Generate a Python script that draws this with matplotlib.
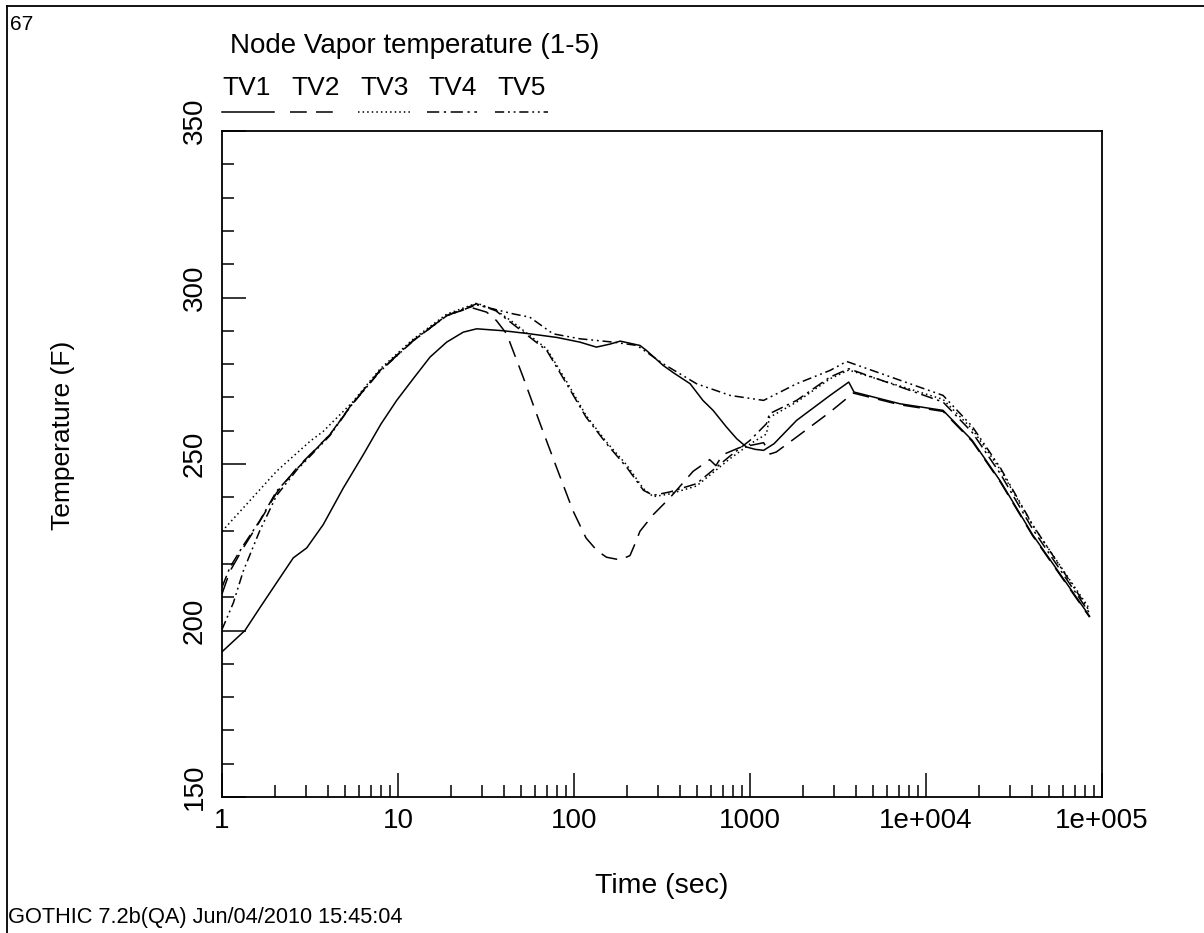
import matplotlib
matplotlib.use("Agg")
import matplotlib.pyplot as plt
import matplotlib.transforms as mtransforms
from matplotlib.lines import Line2D
from matplotlib.ticker import LogLocator, NullFormatter

plt.rcParams["font.family"] = ["Liberation Sans", "DejaVu Sans"]

# --- data ---
SERIES_NAMES = ["TV1", "TV2", "TV3", "TV4", "TV5"]
X_TICK_LABELS = ["1", "10", "100", "1000", "1e+004", "1e+005"]
Y_TICKS = [150, 200, 250, 300, 350]

tv1_t = [1, 1.35, 1.64, 2.04, 2.54, 3.03, 3.76, 4.89, 6.35, 8.0, 9.83, 12.2, 15.2, 18.9, 23.5, 28,
         40, 56, 80, 108, 134, 160, 183, 237, 258, 321, 365, 457, 540, 617, 735, 840, 955, 1070,
         1195, 1370, 1840, 2850, 3640, 3900, 7090, 12500, 18300, 26500, 40300, 85000]
tv1_T = [193.6, 200, 206.8, 214.3, 221.8, 224.8, 231.8, 242.8, 252.8, 262.0, 269.1, 275.6, 282.1,
         286.6, 289.6, 290.6, 290.0, 289.1, 288.0, 286.6, 285.1, 286.0, 286.9, 285.6, 284.1, 279.6,
         277.5, 274.1, 269.1, 266.1, 261.1, 257.6, 255.1, 254.4, 254.1, 256.1, 263.1, 270.6, 274.6,
         271.6, 268.1, 266.1, 257.1, 244.8, 228.8, 204.3]

tv2_t = [1, 1.11, 1.32, 1.64, 2.04, 2.66, 4.1, 5.5, 7.9, 12.2, 18.9, 26, 31.9, 36.2, 41.4, 51.4,
         64.2, 79.8, 98.8, 117, 135, 153, 183, 208, 222, 237, 282, 350, 475, 590, 640, 700, 870,
         1100, 1195, 1300, 1410, 1840, 2850, 3860, 7090, 12500, 18300, 26500, 40300, 85000]
tv2_T = [211, 217.8, 224.8, 232.8, 241.3, 248.8, 258.8, 268, 278, 287, 294.6, 297, 295.6, 293.1,
         289.1, 276.1, 262.1, 248.8, 235.9, 227.8, 224.0, 222.0, 221.2, 222.5, 226.0, 229.8, 234.8,
         239.8, 247.8, 251.3, 249.5, 252.8, 254.9, 256.0, 256.4, 253.0, 253.6, 258.1, 265.6, 271.3,
         267.8, 265.8, 256.8, 244.5, 228.5, 204.0]

tv3_t = [1, 1.32, 2.04, 3.16, 3.76, 5.5, 7.9, 12.2, 18.9, 28, 36, 45, 56, 70, 90.7, 117, 153, 200,
         248, 282, 350, 497, 770, 1000, 1240, 1290, 1840, 2850, 3640, 12500, 18300, 26500, 40300,
         85000]
tv3_T = [229.8, 236.8, 247.8, 256.8, 259.8, 268.5, 278.5, 287.5, 295, 298.3, 296.2, 292.6, 288.6,
         284.6, 274.8, 264.6, 256.6, 249.6, 242.6, 240.2, 241.0, 243.4, 251.6, 256.0, 259.0, 264.0,
         268.6, 275.6, 278.2, 269.4, 260.5, 248.2, 231.6, 206.5]

tv4_t = [1, 1.11, 1.32, 1.64, 2.04, 2.66, 4.1, 5.5, 7.9, 12.2, 18.9, 28, 36, 45, 56, 70, 90.7, 117,
         153, 200, 248, 282, 350, 497, 770, 1000, 1240, 1290, 1840, 2850, 3640, 12500, 18300, 26500,
         40300, 85000]
tv4_T = [213, 219, 225.5, 233, 241.8, 248.5, 258.8, 268.2, 278.1, 287.1, 294.6, 298.1, 296, 292,
         288.1, 284.1, 274.1, 264.1, 256.1, 248.9, 242.1, 240.6, 241.6, 244.1, 252.4, 257.1, 262.1,
         265.1, 269.1, 276.1, 278.6, 268.6, 259.5, 247, 230.5, 205.2]

tv5_t = [1, 1.16, 1.32, 1.64, 2.04, 2.66, 4.1, 5.5, 7.9, 12.2, 18.9, 28, 45, 56, 76, 108, 167, 228,
         321, 497, 770, 1195, 1840, 2850, 3540, 12500, 18300, 26500, 40300, 85000]
tv5_T = [200.3, 208.3, 217.8, 230, 240.5, 248.2, 258.5, 268, 277.8, 287, 294.5, 297.8, 295.1, 294.1,
         289.1, 287.6, 286.6, 285.6, 280.1, 274.1, 270.6, 269.1, 274.1, 278.1, 280.8, 270.6, 261.3,
         248.8, 231.8, 205.8]

series_t = [tv1_t, tv2_t, tv3_t, tv4_t, tv5_t]
series_T = [tv1_T, tv2_T, tv3_T, tv4_T, tv5_T]

# dash patterns similar to the GOTHIC ones
dash_styles = [
    "-",
    (0, (11, 6)),
    (0, (1, 2)),
    (0, (8, 3, 1.5, 3)),
    (0, (6, 2.5, 1.2, 2.5, 1.2, 2.5)),
]

W, H = 1204, 933
fig = plt.figure(figsize=(W / 100, H / 100), dpi=100)

# axes box in pixels: left 222, right 1102, top 131, bottom 797
ax = fig.add_axes([222 / W, (H - 797) / H, 880 / W, 666 / H])

for t, T, ls in zip(series_t, series_T, dash_styles):
    ax.plot(t, T, color="black", linestyle=ls, linewidth=1.1)

ax.set_xscale("log")
ax.set_xlim(1, 1e5)
ax.set_ylim(150, 350)

ax.set_xticks([1, 10, 100, 1000, 1e4, 1e5])
ax.set_xticklabels(X_TICK_LABELS)
ax.xaxis.set_minor_locator(LogLocator(base=10, subs=range(2, 10)))
ax.xaxis.set_minor_formatter(NullFormatter())
ax.set_yticks(Y_TICKS)
ax.set_yticklabels([str(v) for v in Y_TICKS])
ax.set_yticks(range(150, 351, 10), minor=True)

ax.tick_params(which="major", direction="in", length=17, width=1.1, labelsize=20)
ax.tick_params(which="minor", direction="in", length=8.5, width=1.1)
ax.tick_params(axis="x", pad=8)
ax.tick_params(axis="y", pad=10)
for sp in ax.spines.values():
    sp.set_linewidth(1.3)

offset = mtransforms.ScaledTranslation(0, 10 / 100, fig.dpi_scale_trans)
for lab in ax.get_yticklabels():
    lab.set_rotation(90)
    lab.set_va("center")
    lab.set_transform(lab.get_transform() + offset)

ax.set_xlabel("Time (sec)", fontsize=20.5, labelpad=28)
fig.text(63 / W, 1 - 435 / H, "Temperature (F)", rotation=90, fontsize=19,
         ha="center", va="center")

# header texts
fig.text(10 / W, 1 - 25 / H, "67", fontsize=15, ha="left", va="center")
fig.text(230 / W, 1 - 46 / H, "Node Vapor temperature (1-5)", fontsize=20, ha="left", va="center")
fig.text(8 / W, 1 - 918 / H, "GOTHIC 7.2b(QA) Jun/04/2010 15:45:04", fontsize=15.7,
         ha="left", va="center")

# legend: labels above line samples
label_x = [222, 291, 360, 428, 497]
line_span = [(222, 274), (290, 340), (358, 410), (427, 477), (495, 548)]
for name, lx, (x0, x1), ls in zip(SERIES_NAMES, label_x, line_span, dash_styles):
    fig.text(lx / W, 1 - 88 / H, name, fontsize=19, ha="left", va="center")
    fig.add_artist(Line2D([x0 / W, x1 / W], [1 - 112 / H, 1 - 112 / H], color="black",
                          linestyle=ls, linewidth=1.1, transform=fig.transFigure))

# page frame (left and top edges)
fig.add_artist(Line2D([7 / W, 7 / W], [0, 1 - 6 / H], color="black", linewidth=1.3,
                      transform=fig.transFigure))
fig.add_artist(Line2D([7 / W, 1], [1 - 6 / H, 1 - 6 / H], color="black", linewidth=1.3,
                      transform=fig.transFigure))

fig.savefig("out.png", dpi=100)
